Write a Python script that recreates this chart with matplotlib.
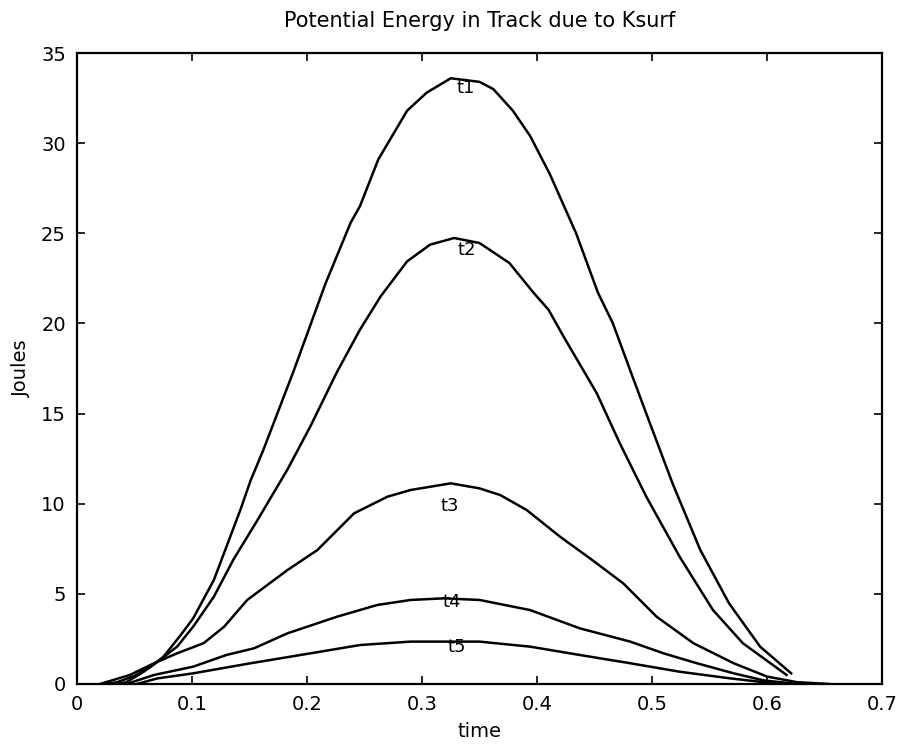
import matplotlib
matplotlib.use("Agg")
import matplotlib.pyplot as plt

# values
t1_time = [0.025, 0.035, 0.05, 0.065, 0.075, 0.09, 0.101, 0.119, 0.142, 0.151, 0.162, 0.188,
           0.216, 0.238, 0.246, 0.262, 0.287, 0.304, 0.325, 0.35, 0.362, 0.379, 0.394, 0.411,
           0.434, 0.453, 0.466, 0.481, 0.495, 0.518, 0.542, 0.567, 0.594, 0.621]
t1_energy = [0.0, 0.1, 0.45, 1.0, 1.5, 2.7, 3.64, 5.77, 9.65, 11.3, 12.98, 17.3,
             22.2, 25.6, 26.5, 29.1, 31.8, 32.8, 33.6, 33.4, 33.0, 31.8, 30.4, 28.3,
             25.0, 21.7, 20.0, 17.4, 15.0, 11.1, 7.43, 4.47, 2.07, 0.59]

t2_time = [0.035, 0.043, 0.058, 0.072, 0.087, 0.101, 0.119, 0.136, 0.157, 0.183, 0.203, 0.226,
           0.246, 0.264, 0.287, 0.307, 0.328, 0.35, 0.376, 0.397, 0.41, 0.423, 0.44, 0.452,
           0.472, 0.495, 0.524, 0.553, 0.579, 0.617]
t2_energy = [0.0, 0.1, 0.68, 1.33, 2.07, 3.18, 4.84, 6.9, 9.1, 11.9, 14.3, 17.3,
             19.65, 21.5, 23.44, 24.37, 24.74, 24.46, 23.35, 21.7, 20.76, 19.28, 17.43, 16.12,
             13.35, 10.39, 7.06, 4.1, 2.26, 0.5]

t3_time = [0.02, 0.046, 0.067, 0.087, 0.11, 0.128, 0.148, 0.183, 0.209, 0.241, 0.27, 0.29,
           0.325, 0.35, 0.368, 0.391, 0.42, 0.446, 0.475, 0.504, 0.536, 0.571, 0.6, 0.626, 0.654]
t3_energy = [0.0, 0.5, 1.15, 1.7, 2.26, 3.18, 4.66, 6.32, 7.43, 9.47, 10.39, 10.76,
             11.13, 10.85, 10.48, 9.65, 8.17, 6.97, 5.58, 3.73, 2.26, 1.15, 0.41, 0.1, 0.0]

t4_time = [0.043, 0.067, 0.101, 0.13, 0.154, 0.183, 0.226, 0.261, 0.29, 0.319, 0.35,
           0.394, 0.437, 0.481, 0.51, 0.539, 0.571, 0.597, 0.626]
t4_energy = [0.0, 0.5, 0.96, 1.61, 1.98, 2.81, 3.73, 4.38, 4.66, 4.75, 4.66,
             4.1, 3.09, 2.35, 1.7, 1.15, 0.59, 0.2, 0.0]

t5_time = [0.052, 0.07, 0.101, 0.151, 0.203, 0.246, 0.29, 0.35, 0.394, 0.437, 0.481,
           0.524, 0.568, 0.611]
t5_energy = [0.0, 0.31, 0.59, 1.15, 1.7, 2.16, 2.35, 2.35, 2.07, 1.61, 1.15,
             0.68, 0.31, 0.0]

labels = ["t1", "t2", "t3", "t4", "t5"]
label_pos = [(0.338, 33.05), (0.339, 24.1), (0.324, 9.9), (0.326, 4.55), (0.33, 2.05)]

plt.rcParams['font.family'] = ['DejaVu Sans']

fig = plt.figure(figsize=(9.04, 7.48), dpi=100)
ax = fig.add_axes([0.0852, 0.0856, 0.8905, 0.8435])

for x, y in [(t1_time, t1_energy), (t2_time, t2_energy), (t3_time, t3_energy),
             (t4_time, t4_energy), (t5_time, t5_energy)]:
    ax.plot(x, y, color='black', linewidth=1.8)

for lab, (x, y) in zip(labels, label_pos):
    ax.text(x, y, lab, ha='center', va='center', fontsize=13)

ax.set_xlim(0, 0.7)
ax.set_ylim(0, 35)
ax.set_xticks([0, 0.1, 0.2, 0.3, 0.4, 0.5, 0.6, 0.7])
ax.set_xticklabels(["0", "0.1", "0.2", "0.3", "0.4", "0.5", "0.6", "0.7"])
ax.set_yticks([0, 5, 10, 15, 20, 25, 30, 35])
ax.tick_params(direction='in', top=True, right=True, length=6, width=1.2, labelsize=14, pad=8)
for s in ax.spines.values():
    s.set_linewidth(1.6)

ax.set_title("Potential Energy in Track due to Ksurf", fontsize=15, pad=19)
ax.set_xlabel("time", fontsize=14, labelpad=6)
ax.set_ylabel("Joules", fontsize=14, labelpad=7)

fig.savefig("out.png", dpi=100)
